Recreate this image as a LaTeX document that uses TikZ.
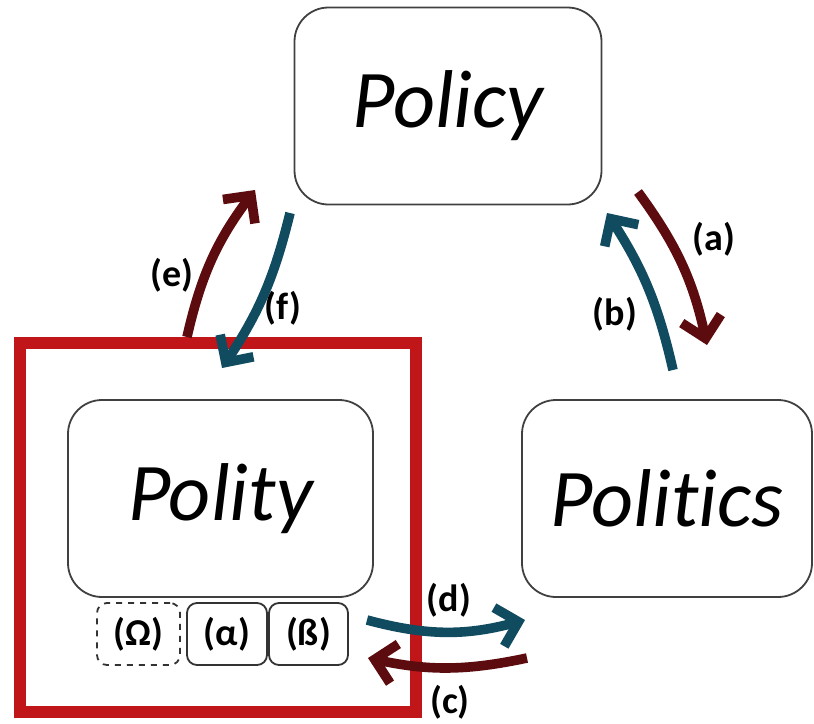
\documentclass[tikz,border=0pt]{standalone}
\usepackage{fontspec}
\setmainfont{Carlito}[Ligatures=NoCommon]
\usetikzlibrary{arrows.meta}
\definecolor{darkred}{HTML}{5C0B0E}
\definecolor{teal}{HTML}{114B5F}
\definecolor{framered}{HTML}{C0161A}
\begin{document}
\begin{tikzpicture}[x=0.5pt,y=-0.5pt,
  bigbox/.style={draw=black!75, line width=0.9pt, rounded corners=17pt, minimum height=98.5pt,
    font=\fontsize{41}{41}\selectfont\itshape},
  smallbox/.style={draw=black!80, line width=0.9pt, rounded corners=5pt, minimum height=31pt,
    font=\fontsize{19}{19}\selectfont\bfseries},
  lbl/.style={font=\fontsize{19}{19}\selectfont\bfseries},
  flow/.style={line width=4.8pt, -{Straight Barb[length=10pt,width=20pt]}}]
\useasboundingbox (0,0) rectangle (814,723);
% boxes
\node[bigbox, minimum width=153.5pt] (policy) at (448,106) {Policy};
\node[bigbox, minimum width=152.5pt] (polity) at (220.5,498.5) {Polity};
\node[bigbox, minimum width=145pt] (politics) at (667,498.5) {Politics};
\node[smallbox, dashed, minimum width=41.5pt] (omega) at (138.5,634) {(Ω)};
\node[smallbox, minimum width=40pt] (alpha) at (227,634) {(α)};
\node[smallbox, minimum width=39.5pt] (beta) at (308.5,634) {(ß)};
% frame
\draw[framered, line width=6pt] (20,343) rectangle (416,712);
% arrow ends
\coordinate (a0) at (638,192); \coordinate (a1) at (707,345);
\coordinate (b0) at (673,370); \coordinate (b1) at (607,213);
\coordinate (e0) at (187,337); \coordinate (e1) at (255,190);
\coordinate (f0) at (290,213); \coordinate (f1) at (222,368);
\coordinate (d0) at (367,620); \coordinate (d1) at (525,620);
\coordinate (c0) at (527,658); \coordinate (c1) at (368,658);
\draw[flow, darkred] (a0) to[bend left=12] (a1);
\draw[flow, teal] (b0) to[bend right=10] (b1);
\draw[flow, darkred] (e0) to[bend left=12] (e1);
\draw[flow, teal] (f0) to[bend left=10] (f1);
\draw[flow, teal] (d0) to[bend right=15] (d1);
\draw[flow, darkred] (c0) to[bend left=12] (c1);
% labels
\node[lbl] (la) at (714,239) {(a)};
\node[lbl] (lb) at (615,314) {(b)};
\node[lbl] (lc) at (450,702) {(c)};
\node[lbl] (ld) at (449,600) {(d)};
\node[lbl] (le) at (172,275) {(e)};
\node[lbl] (lf) at (283,308) {(f)};
\end{tikzpicture}
\end{document}
